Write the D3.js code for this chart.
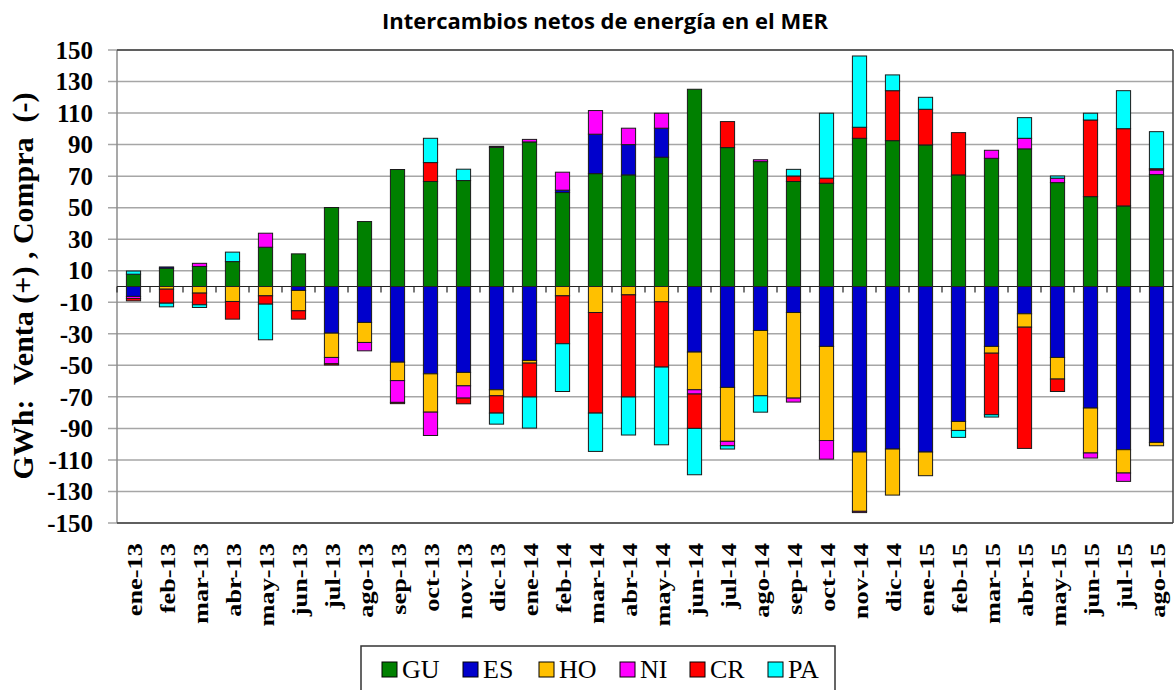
<!DOCTYPE html>
<html><head><meta charset="utf-8">
<script src="https://cdn.jsdelivr.net/npm/d3@7"></script>
<style>body{margin:0;background:#fff}svg{display:block}</style>
</head><body>
<svg id="c" width="1175" height="690"></svg>
<script>
const months = ["ene-13","feb-13","mar-13","abr-13","may-13","jun-13","jul-13","ago-13","sep-13","oct-13","nov-13","dic-13",
"ene-14","feb-14","mar-14","abr-14","may-14","jun-14","jul-14","ago-14","sep-14","oct-14","nov-14","dic-14",
"ene-15","feb-15","mar-15","abr-15","may-15","jun-15","jul-15","ago-15"];
const seriesNames = ["GU","ES","HO","NI","CR","PA"];
const GU = [7.8,11.6,12.7,15.8,24.9,20.7,50.1,41.2,74.2,66.6,67.2,88.3,91.7,59.6,71.6,70.8,82,125.1,88.1,79.2,66.6,65.5,94,92.5,89.8,70.8,81.3,87.3,65.9,57,51.1,71];
const ES = [-6.3,0.8,0,0,0,-2.5,-29.6,-22.8,-48,-55.4,-54.5,-65.5,-46.9,1.5,25,19.2,18.4,-41.6,-64,-27.9,-16.5,-38,-105,-103.1,-105,-85.6,-38,-17.3,-45,-77.1,-103.5,-98.9];
const HO = [0,-1.7,-4.2,-9.5,-5.9,-12.9,-15.4,-12.7,-11.7,-24.3,-8.5,-3.8,-1.7,-5.9,-16.5,-5.3,-9.7,-23.9,-34.2,-41.4,-54.3,-59.7,-37.6,-29.2,-15,-5.7,-4.3,-8.5,-13.7,-28.5,-14.8,-2.1];
const NI = [-1.3,0,2.0,0,8.9,0,-4.0,-5.3,-13.8,-14.8,-7.8,0.6,1.6,11.4,15,10.4,9.5,-2.7,-2.8,1.2,-2.5,-11.8,-0.8,0,0,0,5.1,6.7,2.8,-3.2,-5.3,2.9];
const CR = [-1.5,-8.9,-7.4,-11.2,-5.3,-5.3,-0.8,0,-0.8,12,-3.6,-11,-21.5,-30.4,-63.8,-64.8,-41.4,-21.8,16.5,0,3.5,3.2,7,31.7,22.6,26.8,-39,-76.9,-7.9,48.6,49,0.8];
const PA = [2.0,-2.3,-1.7,6.0,-22.6,0,0,0,0,15.4,7.2,-7,-19.7,-30.3,-24.3,-24.1,-49.3,-29.4,-2.1,-10.4,4.2,41.2,45.2,10,7.6,-4.4,-1.5,13.1,1.4,4.3,24.1,23.5];
const colors = ["#008000","#0000CC","#FFC000","#FF00FF","#FF0000","#00FFFF"];
const yTicks = [150,130,110,90,70,50,30,10,-10,-30,-50,-70,-90,-110,-130,-150];

const svg = d3.select("#c");
const L = 117, R = 1173, T = 50, B = 523;
const x = d3.scaleBand().domain(months).range([L, R]).paddingInner(0).paddingOuter(0);
const y = d3.scaleLinear().domain([-150, 150]).range([B, T]);

const table = months.map((m, i) => ({m, GU: GU[i], ES: ES[i], HO: HO[i], NI: NI[i], CR: CR[i], PA: PA[i]}));
const stack = d3.stack().keys(seriesNames).offset(d3.stackOffsetDiverging).order(d3.stackOrderNone);
const stacked = stack(table);

// title
svg.append("text").attr("x", 605).attr("y", 29).attr("text-anchor", "middle")
  .attr("font-family", "Open Sans").attr("font-weight", "bold").attr("font-size", 22)
  .text("Intercambios netos de energía en el MER");

// grid
svg.append("g").selectAll("line").data(yTicks).join("line")
  .attr("x1", 108).attr("x2", R).attr("y1", d => y(d)).attr("y2", d => y(d))
  .attr("stroke", "#a6a6a6").attr("stroke-width", 1.5);

// y tick labels
svg.append("g").selectAll("text").data(yTicks).join("text")
  .attr("x", 93).attr("y", d => y(d)).attr("dy", "0.35em").attr("text-anchor", "end")
  .attr("font-family", "Liberation Serif").attr("font-weight", "bold").attr("font-size", 25)
  .text(d => d);

// left axis
svg.append("line").attr("x1", L).attr("x2", L).attr("y1", T).attr("y2", B).attr("stroke", "#8c8c8c").attr("stroke-width", 1.5);
// frame
svg.append("line").attr("x1", L).attr("x2", R).attr("y1", T).attr("y2", T).attr("stroke", "#404040").attr("stroke-width", 1.5);
svg.append("line").attr("x1", L).attr("x2", R).attr("y1", B).attr("y2", B).attr("stroke", "#404040").attr("stroke-width", 1.5);
svg.append("line").attr("x1", R).attr("x2", R).attr("y1", T).attr("y2", B).attr("stroke", "#404040").attr("stroke-width", 1.5);

// bars
const bw = x.bandwidth() * 0.43;
svg.append("g").selectAll("g").data(stacked).join("g")
  .attr("fill", (d, i) => colors[i])
  .selectAll("rect").data(d => d.filter(s => s[1] !== s[0])).join("rect")
  .attr("x", d => x(d.data.m) + x.bandwidth() / 2 - bw / 2)
  .attr("width", bw)
  .attr("y", d => y(Math.max(d[0], d[1])))
  .attr("height", d => Math.abs(y(d[0]) - y(d[1])))
  .attr("stroke", "#1a1a1a").attr("stroke-width", 1);

// zero line with category ticks
svg.append("line").attr("x1", L).attr("x2", R).attr("y1", y(0)).attr("y2", y(0)).attr("stroke", "#222").attr("stroke-width", 1.2);
svg.append("g").selectAll("line").data(months).join("line")
  .attr("x1", d => x(d)).attr("x2", d => x(d)).attr("y1", y(0)).attr("y2", y(0) + 6)
  .attr("stroke", "#222").attr("stroke-width", 1.2);

// x labels
svg.append("g").selectAll("text").data(months).join("text")
  .attr("transform", d => `translate(${x(d) + x.bandwidth() / 2 + 8},543) rotate(-90) scale(1.2,1)`)
  .attr("text-anchor", "end")
  .attr("font-family", "Liberation Serif").attr("font-weight", "bold").attr("font-size", 22)
  .text(d => d);

// y title
svg.append("text").attr("transform", "translate(33,286) rotate(-90)").attr("text-anchor", "middle")
  .attr("font-family", "Liberation Serif").attr("font-weight", "bold").attr("font-size", 30)
  .attr("xml:space", "preserve").style("white-space", "pre")
  .text("GWh:  Venta (+) , Compra  (-)");

// legend
const lg = svg.append("g");
lg.append("rect").attr("x", 361).attr("y", 646).attr("width", 474).attr("height", 60)
  .attr("fill", "#fff").attr("stroke", "#333").attr("stroke-width", 1.5);
const legX = [382, 463, 539, 620, 690, 768];
const li = lg.selectAll("g").data(seriesNames).join("g").attr("transform", (d, i) => `translate(${legX[i]},662)`);
li.append("rect").attr("width", 15).attr("height", 15).attr("fill", (d, i) => colors[i]).attr("stroke", "#000").attr("stroke-width", 1);
li.append("text").attr("x", 20).attr("y", 16).attr("font-family", "Liberation Serif").attr("font-size", 26).text(d => d);
</script>
</body></html>
